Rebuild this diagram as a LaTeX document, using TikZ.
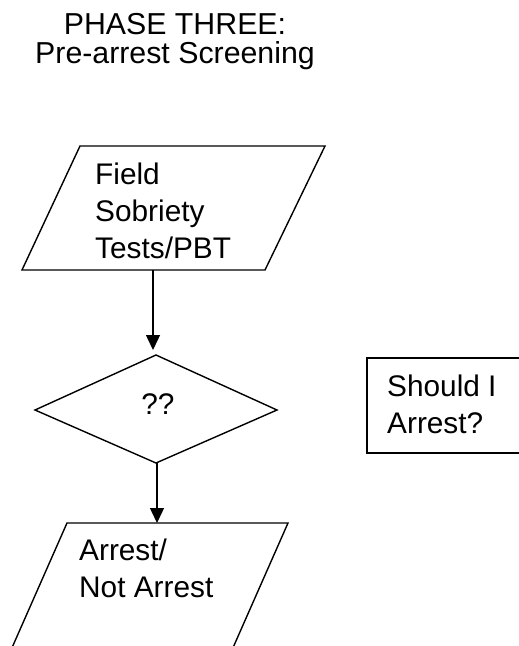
\documentclass[tikz,border=0pt]{standalone}
\usepackage{fontspec}
\setmainfont{Liberation Sans}
\usetikzlibrary{arrows.meta}
\begin{document}
\begin{tikzpicture}[x=1pt,y=-1pt,
  outline/.style={draw=black,line width=1.4pt,line join=miter},
  flow/.style={draw=black,line width=1.4pt,-{Triangle[length=15pt,width=14pt]}},
  bodytext/.style={inner sep=0pt,anchor=base west,align=left,
    font=\fontsize{29.8}{36.8}\selectfont},
  titletext/.style={inner sep=0pt,anchor=base,align=center,
    font=\fontsize{30.3}{28.5}\selectfont}]
\useasboundingbox[fill=white] (0,0) rectangle (519,646);
\clip (0,0) rectangle (519,646);

% heading (anchored on the baseline of its last line)
\node[titletext] (title) at (175,63) {PHASE THREE:\\Pre-arrest Screening};

% input: field sobriety tests
\coordinate (fa) at (80,146);
\coordinate (fb) at (325,146);
\coordinate (fc) at (265,270);
\coordinate (fd) at (22,270);
\draw[outline] (fa) -- (fb) -- (fc) -- (fd) -- cycle;
\node[bodytext] (field) at (95,258) {Field\\Sobriety\\Tests/PBT};

% decision
\coordinate (dt) at (156,355);
\coordinate (dr) at (277,410);
\coordinate (db) at (156,463);
\coordinate (dl) at (35,410);
\draw[outline] (dt) -- (dr) -- (db) -- (dl) -- cycle;
\node[bodytext,anchor=base] (qq) at (158,414) {??};

% output: arrest / not arrest
\coordinate (oa) at (67,523);
\coordinate (ob) at (288,523);
\coordinate (oc) at (232,650);
\coordinate (od) at (11,650);
\draw[outline] (oa) -- (ob) -- (oc) -- (od) -- cycle;
\node[bodytext] (arrest) at (79,597) {Arrest/\\Not Arrest};

% side note
\coordinate (na) at (367,358);
\coordinate (nb) at (530,453);
\draw[outline] (na) rectangle (nb);
\node[bodytext] (note) at (387,433) {Should I\\Arrest?};

% connectors
\coordinate (f-out) at (153,270);
\coordinate (d-in) at (153,350);
\coordinate (d-out) at (157,463);
\coordinate (o-in) at (157,523);
\draw[flow] (f-out) -- (d-in);
\draw[flow] (d-out) -- (o-in);
\end{tikzpicture}
\end{document}
